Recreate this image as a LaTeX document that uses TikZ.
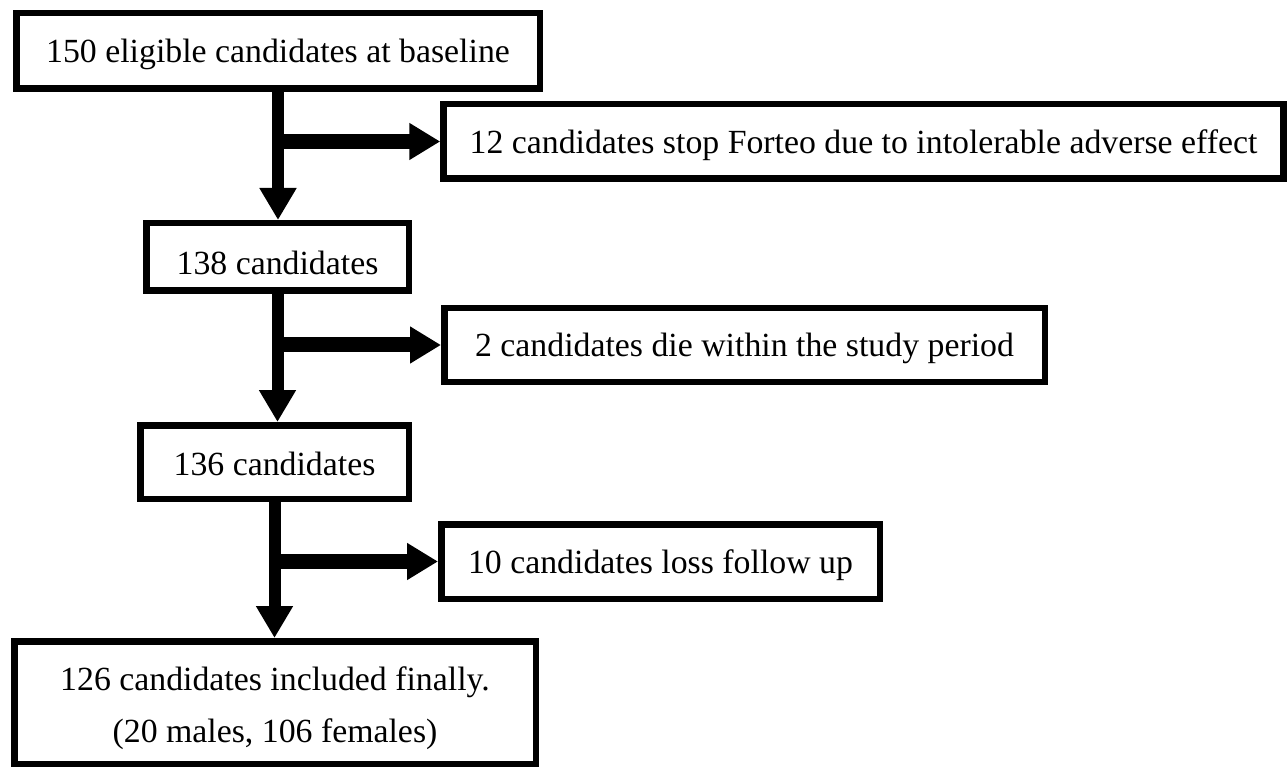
\documentclass[tikz,border=0pt]{standalone}
\usepackage{fontspec}
\setmainfont{Liberation Serif}
\usetikzlibrary{arrows.meta}
\tikzset{
  box/.style={draw, line width=6.5pt, inner sep=0pt, align=center,
    text height=23.5pt, text depth=0pt,
    font=\fontsize{33.8}{52}\selectfont},
  flow/.style={line width=12pt, -{Triangle[length=32pt,width=35pt]}},
  side/.style={line width=15pt, -{Triangle[length=31pt,width=35pt]}},
}
\begin{document}
\begin{tikzpicture}[x=1pt,y=-1pt]
\useasboundingbox (0,0) rectangle (1288,767);
\node[box, minimum width=523.5pt, minimum height=75.5pt, text height=24pt] (b1) at (278,51) {150 eligible candidates at baseline};
\node[box, minimum width=840pt, minimum height=74.5pt] (b2) at (863.5,141.5) {12 candidates stop Forteo due to intolerable adverse effect};
\node[box, minimum width=262.5pt, minimum height=67.5pt, text height=36pt] (b3) at (277.5,257) {138 candidates};
\node[box, minimum width=600.5pt, minimum height=73.5pt] (b4) at (744.5,345) {2 candidates die within the study period};
\node[box, minimum width=268.5pt, minimum height=73.5pt, text height=26pt] (b5) at (274.5,462) {136 candidates};
\node[box, minimum width=438.5pt, minimum height=74.5pt] (b6) at (660.5,561.5) {10 candidates loss follow up};
\node[box, minimum width=521.5pt, minimum height=122.5pt, text height=79pt] (b7) at (275,702.5) {126 candidates included finally.\\(20 males, 106 females)};
\draw[flow] (b1.south) -- (b1.south |- b3.north);
\draw[side] (b1.south |- b2.west) -- (b2.west);
\draw[flow] (b3.south) -- (b3.south |- b5.north);
\draw[side] (b3.south |- b4.west) -- (b4.west);
\draw[flow] (b5.south) -- (b5.south |- b7.north);
\draw[side] (b5.south |- b6.west) -- (b6.west);
\end{tikzpicture}
\end{document}
